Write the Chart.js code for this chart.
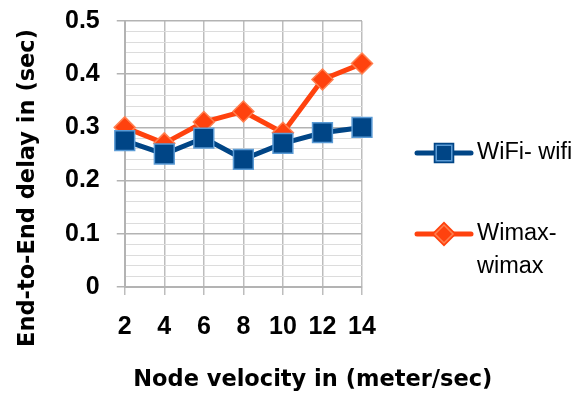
<!DOCTYPE html>
<html>
<head>
<meta charset="utf-8">
<script src="https://cdn.jsdelivr.net/npm/chart.js@4"></script>
<style>
html,body{margin:0;padding:0;background:#fff;}
#wrap{width:587px;height:394px;position:relative;}
</style>
</head>
<body>
<div id="wrap"><canvas id="c" width="587" height="394"></canvas></div>
<script>
const categories = ['2', '4', '6', '8', '10', '12', '14'];
const wifiValues = [0.275, 0.25, 0.28, 0.24, 0.27, 0.29, 0.30];
const wimaxValues = [0.30, 0.27, 0.31, 0.33, 0.29, 0.39, 0.42];
const seriesLabels = [['WiFi- wifi'], ['Wimax-', 'wimax']];
const yTitle = 'End-to-End delay in (sec)';
const xTitle = 'Node velocity in (meter/sec)';

const isMajor = v => Math.round(v * 100) % 10 === 0;
const tickFont = { family: '"Liberation Sans", Arial, sans-serif', size: 25, weight: 'bold' };
const titleFontCss = 'bold 22.5px "DejaVu Sans", sans-serif';

// Axis titles drawn without the width clamp Chart.js applies to scale titles
const axisTitlePlugin = {
  id: 'axisTitles',
  afterDraw(chart) {
    const ctx = chart.ctx;
    const a = chart.chartArea;
    ctx.save();
    ctx.fillStyle = '#000';
    ctx.font = titleFontCss;
    ctx.textAlign = 'center';
    ctx.textBaseline = 'middle';
    ctx.fillText(xTitle, a.left + 188, a.bottom + 93);
    ctx.translate(a.left - 97, a.top + 167);
    ctx.rotate(-Math.PI / 2);
    ctx.fillText(yTitle, 0, 0);
    ctx.restore();
  }
};

const legendPlugin = {
  id: 'customLegend',
  afterDraw(chart) {
    const ctx = chart.ctx;
    const x0 = chart.chartArea.right + 55;
    const ys = [153, 234];
    chart.data.datasets.forEach((ds, i) => {
      const y = ys[i];
      ctx.save();
      ctx.strokeStyle = ds.borderColor;
      ctx.lineWidth = 5;
      ctx.lineCap = 'round';
      ctx.beginPath();
      ctx.moveTo(x0, y);
      ctx.lineTo(x0 + 54, y);
      ctx.stroke();
      Chart.helpers.drawPoint(ctx, {
        pointStyle: ds.pointStyle,
        radius: ds.legendRadius,
        borderWidth: ds.pointBorderWidth,
        rotation: 0
      }, x0 + 27, y);
      ctx.fillStyle = ds.pointBackgroundColor;
      ctx.strokeStyle = ds.pointBorderColor;
      ctx.lineWidth = ds.pointBorderWidth;
      ctx.fill();
      ctx.stroke();
      ctx.fillStyle = '#000';
      ctx.font = '23.5px "Liberation Sans", Arial, sans-serif';
      ctx.textBaseline = 'middle';
      ctx.textAlign = 'left';
      seriesLabels[i].forEach((t, k) => ctx.fillText(t, x0 + 60, y + k * 33));
      ctx.restore();
    });
  }
};

new Chart(document.getElementById('c'), {
  type: 'line',
  data: {
    labels: categories,
    datasets: [
      {
        label: seriesLabels[0].join(' '),
        data: wifiValues,
        borderColor: '#004586',
        backgroundColor: '#004586',
        borderWidth: 5,
        pointStyle: 'rect',
        pointRadius: 14,
        legendRadius: 11,
        pointBackgroundColor: '#004586',
        pointBorderColor: '#5b9bd5',
        pointBorderWidth: 1.5,
        tension: 0
      },
      {
        label: seriesLabels[1].join(' '),
        data: wimaxValues,
        borderColor: '#ff420e',
        backgroundColor: '#ff420e',
        borderWidth: 5,
        pointStyle: 'rectRot',
        pointRadius: 10.5,
        legendRadius: 9,
        pointBackgroundColor: '#ff420e',
        pointBorderColor: '#ff7f4f',
        pointBorderWidth: 1.5,
        tension: 0
      }
    ]
  },
  options: {
    responsive: false,
    animation: false,
    layout: { padding: { left: 48, right: 225, top: 21, bottom: 35 } },
    plugins: { legend: { display: false }, tooltip: { enabled: false } },
    scales: {
      x: {
        type: 'category',
        offset: false,
        grid: { color: '#bdbdbd', lineWidth: 1.5, tickLength: 8, tickColor: '#bdbdbd' },
        border: { color: '#b3b3b3', width: 2 },
        ticks: {
          color: '#000',
          font: tickFont,
          padding: 17,
          maxRotation: 0,
          autoSkip: false
        },
        title: { display: false, text: xTitle }
      },
      y: {
        min: 0,
        max: 0.5,
        afterFit: scale => { scale.paddingTop = 12; },
        grid: {
          color: ctx => isMajor(ctx.tick.value) ? '#b3b3b3' : '#dcdcdc',
          lineWidth: ctx => isMajor(ctx.tick.value) ? 1.5 : 1,
          tickLength: 8,
          tickColor: ctx => isMajor(ctx.tick.value) ? '#b3b3b3' : 'rgba(0,0,0,0)'
        },
        border: { color: '#b3b3b3', width: 2 },
        ticks: {
          stepSize: 0.02,
          autoSkip: false,
          color: '#000',
          padding: 17,
          font: tickFont,
          callback: v => isMajor(v) ? (Math.round(v * 10) / 10).toString() : ''
        },
        title: { display: false, text: yTitle }
      }
    }
  },
  plugins: [axisTitlePlugin, legendPlugin]
});
</script>
</body>
</html>
